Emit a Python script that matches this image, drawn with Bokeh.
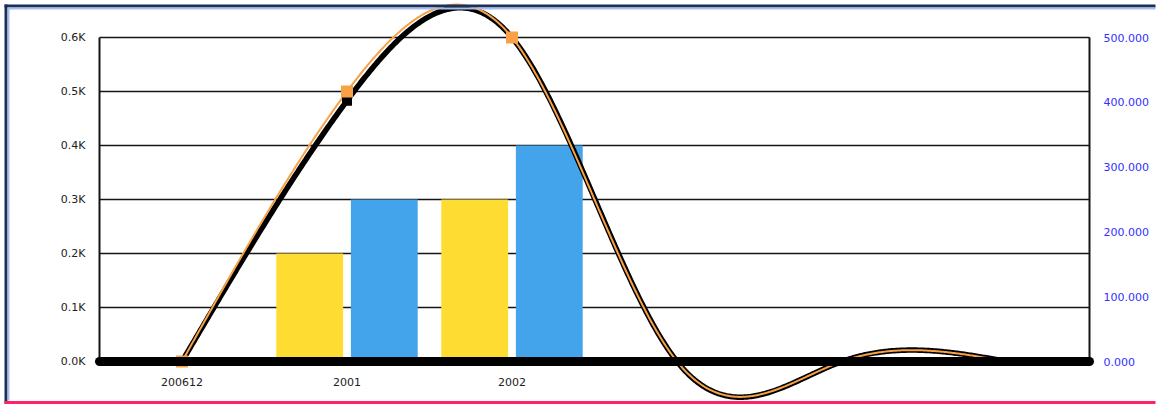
import numpy as np
from bokeh.plotting import figure
from bokeh.models import (LinearAxis, Range1d, FixedTicker, NumeralTickFormatter)
from bokeh.embed import file_html
from bokeh.resources import INLINE

# ---- data ----
categories = ["200612", "2001", "2002", "", "", ""]
bar_yellow = [0, 200, 300, 0, 0, 0]
bar_blue = [0, 300, 400, 0, 0, 0]
line_orange = [0, 500, 600, 0, 0, 0]
line_black = [0, 483, 600, 0, 0, 0]
left_ticks = [0, 100, 200, 300, 400, 500, 600]
left_tick_labels = ["0.0K", "0.1K", "0.2K", "0.3K", "0.4K", "0.5K", "0.6K"]
right_ticks = [0, 100, 200, 300, 400, 500]

YELLOW = "#FEDC32"
BLUE = "#43A4EC"
ORANGE = "#F9A245"
NAVY = "#1d2d5c"
LIGHTBLUE = "#a5bfe9"
PINK = "#ff2266"
FONT = "DejaVu Sans"


def natural_spline(y, n=120):
    y = np.asarray(y, float)
    k = len(y)
    A = np.zeros((k, k))
    b = np.zeros(k)
    A[0, 0] = A[-1, -1] = 1
    for i in range(1, k - 1):
        A[i, i - 1] = 1
        A[i, i] = 4
        A[i, i + 1] = 1
        b[i] = 6 * (y[i + 1] - 2 * y[i] + y[i - 1])
    M = np.linalg.solve(A, b)
    xs, ys = [], []
    for i in range(k - 1):
        t = np.linspace(0, 1, n, endpoint=(i == k - 2))
        u = 1 - t
        s = y[i] * u + y[i + 1] * t + M[i] / 6 * (u ** 3 - u) + M[i + 1] / 6 * (t ** 3 - t)
        xs.append(i + t)
        ys.append(s)
    return np.concatenate(xs), np.concatenate(ys)


# ---- layout geometry (pixels -> data units) ----
W, H = 1157, 405
PX_X = 165.0          # px per category
PX_Y = 0.54           # px per value unit
X0_PX, Y0_PX = 99, 361   # pixel position of the plot area's left edge / value zero
n = len(categories)
idx = np.arange(n)
x_lo = -0.5 - X0_PX / PX_X
x_hi = -0.5 + (W - X0_PX) / PX_X
y_hi = Y0_PX / PX_Y
y_lo = -(H - Y0_PX) / PX_Y
ratio = right_ticks[-1] / left_ticks[-1]


def vx(px):
    return x_lo + px / PX_X


def vy(py):
    return y_hi - py / PX_Y


p = figure(width=W, height=H,
           x_range=Range1d(x_lo, x_hi), y_range=Range1d(y_lo, y_hi),
           output_backend="svg", toolbar_location=None,
           x_axis_location=None, y_axis_location=None,
           min_border=0)
p.outline_line_color = None
p.background_fill_color = "white"
p.border_fill_color = "white"
for g in p.xgrid + p.ygrid:
    g.visible = False
p.extra_y_ranges = {"right": Range1d(y_lo * ratio, y_hi * ratio)}

L, R = -0.5, n - 0.5
top = left_ticks[-1]

# horizontal grid lines within the plot area
p.segment(x0=[L] * len(left_ticks), x1=[R] * len(left_ticks), y0=left_ticks, y1=left_ticks,
          line_color="#151515", line_width=1.5)
# left / right frame lines
p.segment(x0=[L, R], x1=[L, R], y0=[0, 0], y1=[top, top],
          line_color="#151515", line_width=2)

# bars
p.vbar(x=idx - 0.226, top=bar_yellow, width=0.405, fill_color=YELLOW, line_color=None)
p.vbar(x=idx + 0.226, top=bar_blue, width=0.405, fill_color=BLUE, line_color=None)

# smooth lines
bx, by = natural_spline(line_black)
ox, oy = natural_spline(line_orange)
p.line(bx, by, line_color="black", line_width=5.5, line_join="round")
p.line(ox, oy, line_color=ORANGE, line_width=2, line_join="round")

labeled = [i for i, c in enumerate(categories) if c]
p.scatter(x=[idx[i] for i in labeled], y=[line_black[i] for i in labeled],
          marker="square", size=10, fill_color="black", line_color=None)
p.scatter(x=[idx[i] for i in labeled], y=[line_orange[i] for i in labeled],
          marker="square", size=12, fill_color=ORANGE, line_color=None)

# thick baseline
p.segment(x0=[L], x1=[R], y0=[0], y1=[0], line_color="black", line_width=9, line_cap="round")

# outer border lines
p.segment(x0=[vx(4)], x1=[vx(1155)], y0=[vy(5.5)], y1=[vy(5.5)], line_color=NAVY, line_width=3)
p.segment(x0=[vx(7)], x1=[vx(1155)], y0=[vy(8)], y1=[vy(8)], line_color=LIGHTBLUE, line_width=2)
p.segment(x0=[vx(5.5)], x1=[vx(5.5)], y0=[vy(4)], y1=[vy(403)], line_color=NAVY, line_width=3)
p.segment(x0=[vx(8)], x1=[vx(8)], y0=[vy(7)], y1=[vy(400)], line_color=LIGHTBLUE, line_width=2)
p.segment(x0=[vx(4)], x1=[vx(1155)], y0=[vy(402)], y1=[vy(402)], line_color=PINK, line_width=3)

# axes
common = dict(axis_line_color=None, major_tick_line_color=None,
              minor_tick_line_color=None, major_tick_out=0, major_tick_in=0,
              major_label_text_font=FONT, major_label_text_font_size="11px")

left = LinearAxis(fixed_location=L, ticker=FixedTicker(ticks=left_ticks),
                  major_label_overrides={t: l for t, l in zip(left_ticks, left_tick_labels)},
                  major_label_standoff=14, major_label_text_color="#222222", **common)
p.add_layout(left, "left")

right = LinearAxis(fixed_location=R, y_range_name="right", ticker=FixedTicker(ticks=right_ticks),
                   formatter=NumeralTickFormatter(format="0.000"),
                   major_label_standoff=14, major_label_text_color="#3030ff", **common)
p.add_layout(right, "right")

bottom = LinearAxis(fixed_location=0, ticker=FixedTicker(ticks=list(idx)),
                    major_label_overrides={int(i): c for i, c in zip(idx, categories)},
                    major_label_standoff=16, major_label_text_color="#222222", **common)
p.add_layout(bottom, "below")

open("out.html", "w").write(file_html(p, INLINE))
